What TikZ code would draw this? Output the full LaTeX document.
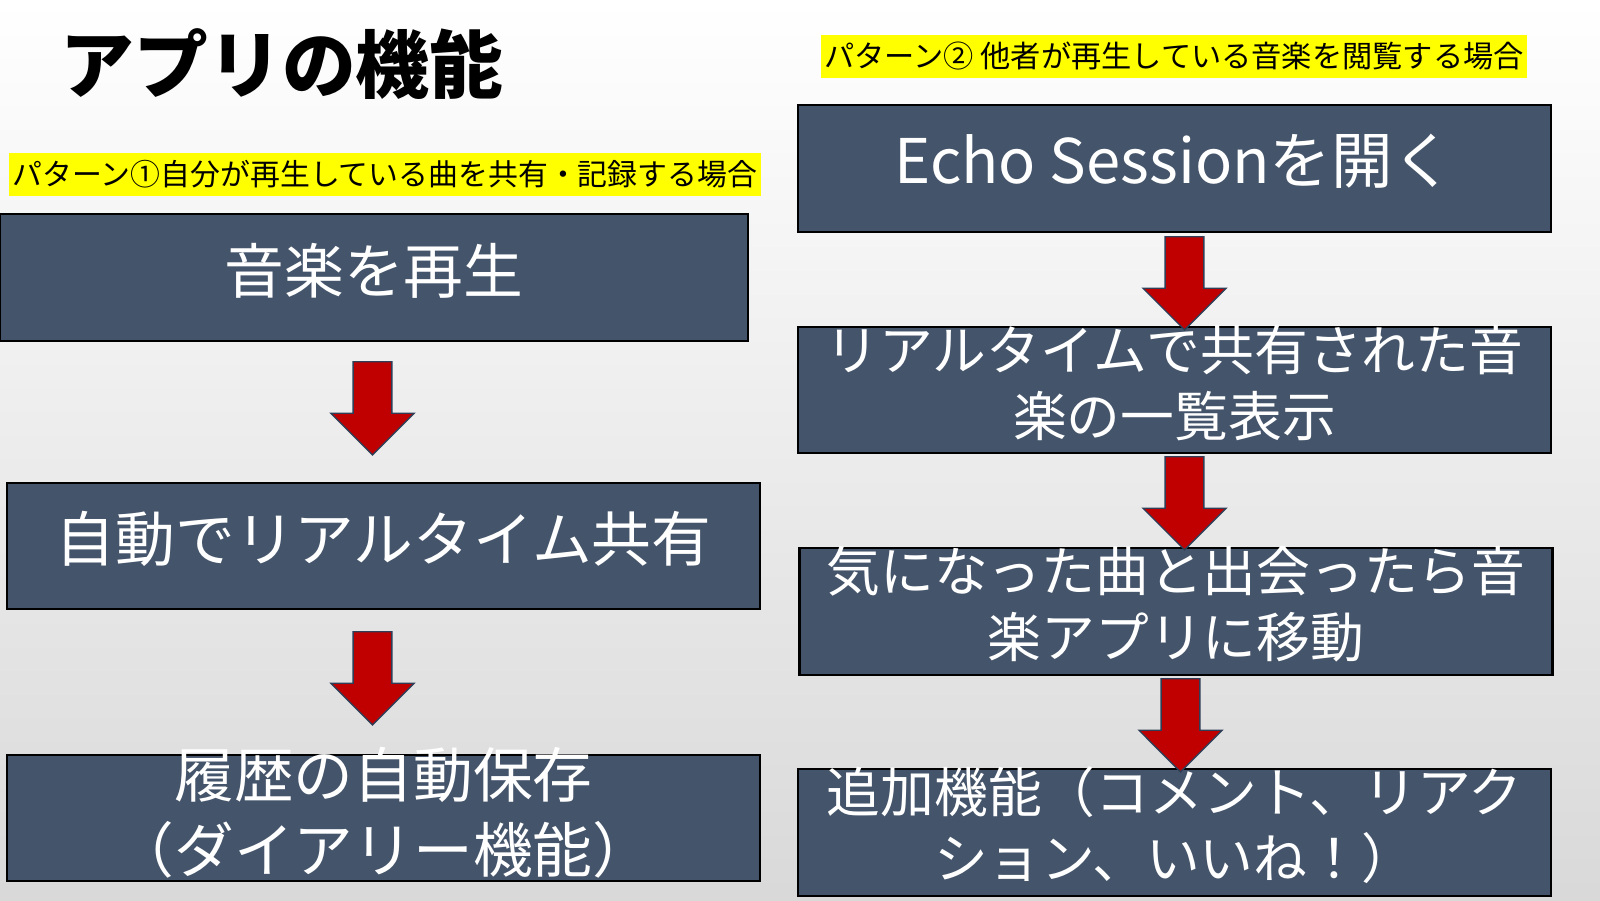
\documentclass[tikz,border=0pt]{standalone}
\usepackage{fontspec}
\setmainfont{Noto Sans CJK JP}
\usetikzlibrary{shapes.arrows,calc}
\definecolor{boxblue}{RGB}{68,84,106}
\definecolor{arrowred}{RGB}{192,0,0}
\definecolor{arrowline}{RGB}{47,62,86}
\definecolor{hiliteyellow}{RGB}{255,255,0}
\tikzset{box/.style={draw=black,line width=0.6pt,fill=boxblue,
        minimum width=7.53cm,minimum height=1.26cm,inner sep=0pt},
    boxtext/.style={text=white,align=center,inner sep=0pt,yshift=0.07cm,
        font=\fontsize{17pt}{21.4pt}\selectfont},
    twoline/.style={font=\fontsize{15.3pt}{18.8pt}\selectfont},
    hilite/.style={fill=hiliteyellow,inner xsep=1pt,inner ysep=0pt,minimum height=0.43cm,
        font=\fontsize{8.5pt}{10pt}\selectfont},
    downarrow/.style={single arrow,shape border rotate=270,draw=arrowline,fill=arrowred,
        line width=0.4pt,minimum height=0.93cm,minimum width=0.83cm,
        single arrow head extend=0.22cm,inner sep=0.185cm,anchor=tail}}
\begin{document}
\begin{tikzpicture}
    \useasboundingbox (0,0) rectangle (16,-9);
    \shade[top color=white,bottom color=gray!30] (0,0) rectangle (16,-9);

    \node[anchor=west,inner sep=0pt,font=\fontsize{21pt}{24pt}\selectfont\bfseries]
        (title) at (0.6,-0.64) {アプリの機能};

    % pattern 1
    \node[hilite] (pat1) at (3.85,-1.745) {パターン①自分が再生している曲を共有・記録する場合};
    \node[box,minimum width=7.48cm,minimum height=1.27cm,
        label={[boxtext]center:音楽を再生}] (music) at (3.74,-2.775) {};
    \node[box,label={[boxtext]center:自動でリアルタイム共有}] (share) at (3.835,-5.46) {};
    \node[box,label={[boxtext,yshift=-0.02cm]center:{履歴の自動保存\\（ダイアリー機能）}}]
        (diary) at (3.835,-8.18) {};

    % pattern 2
    \node[hilite,font=\fontsize{8.6pt}{10pt}\selectfont] (pat2) at (11.74,-0.565)
        {パターン② 他者が再生している音楽を閲覧する場合};
    \node[box,minimum height=1.27cm,
        label={[boxtext,font=\fontsize{17.5pt}{21pt}\selectfont]center:Echo Sessionを開く}]
        (echo) at (11.745,-1.685) {};
    \node[box,label={[boxtext,twoline]center:{リアルタイムで共有された音\\楽の一覧表示}}]
        (list) at (11.745,-3.90) {};
    \node[box,minimum height=1.27cm,
        label={[boxtext,twoline]center:{気になった曲と出会ったら音\\楽アプリに移動}}]
        (move) at (11.76,-6.115) {};
    \node[box,minimum height=1.27cm,
        label={[boxtext,twoline]center:{追加機能（コメント、リアク\\ション、いいね！）}}]
        (extra) at (11.745,-8.325) {};

    % arrows
    \node[downarrow] (a1) at ([shift={(-0.015,-0.19)}]music.south) {};
    \node[downarrow] (a2) at ([shift={(-0.11,-0.21)}]share.south) {};
    \node[downarrow] (a3) at ([shift={(0.1,-0.03)}]echo.south) {};
    \node[downarrow] (a4) at ([shift={(0.1,-0.02)}]list.south) {};
    \node[downarrow] (a5) at ([shift={(0.045,-0.02)}]move.south) {};
\end{tikzpicture}
\end{document}
